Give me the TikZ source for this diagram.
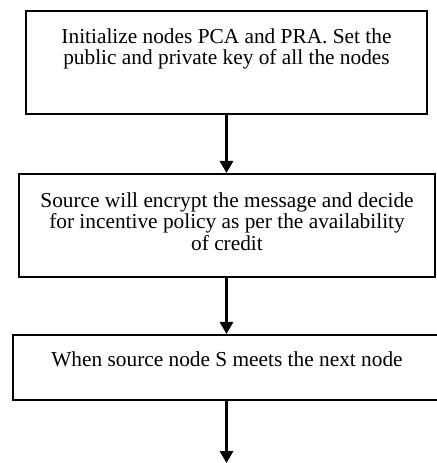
\documentclass[tikz,border=0pt]{standalone}
\usepackage{fontspec}
\setmainfont{Liberation Serif}
\usetikzlibrary{arrows.meta}
\begin{document}
\begin{tikzpicture}[x=0.75pt,y=-0.75pt,
  stepbox/.style={draw=black,line width=1.6pt,rectangle,inner sep=0pt,fill=none},
  steptext/.style={inner sep=0pt,align=center,anchor=north,
    font=\fontsize{16pt}{16.4pt}\selectfont},
  flow/.style={line width=1.6pt,-{Triangle[width=10pt,length=9pt]}}]
  \useasboundingbox (0,0) rectangle (436,463);

  % process boxes
  \node[stepbox,minimum width=300.75pt,minimum height=77.25pt] (b1) at (226.5,62.5) {};
  \node[stepbox,minimum width=312pt,minimum height=77.25pt] (b2) at (227,225.5) {};
  \node[stepbox,minimum width=321pt,minimum height=48.75pt] (b3) at (227,367.5) {};
  \coordinate (end) at (226.5,463);

  % box texts
  \node[steptext] (t1) at (226.5,28) {Initialize nodes PCA and PRA. Set the\\public and private key of all the nodes};
  \node[steptext] (t2) at (227,192) {Source will encrypt the message and decide\\for incentive policy as per the availability\\of credit};
  \node[steptext] (t3) at (227,351) {When source node S meets the next node};

  % connectors
  \draw[flow] (b1.south -| end) -- (b2.north -| end);
  \draw[flow] (b2.south -| end) -- (b3.north -| end);
  \draw[flow] (b3.south -| end) -- (end);
\end{tikzpicture}
\end{document}
